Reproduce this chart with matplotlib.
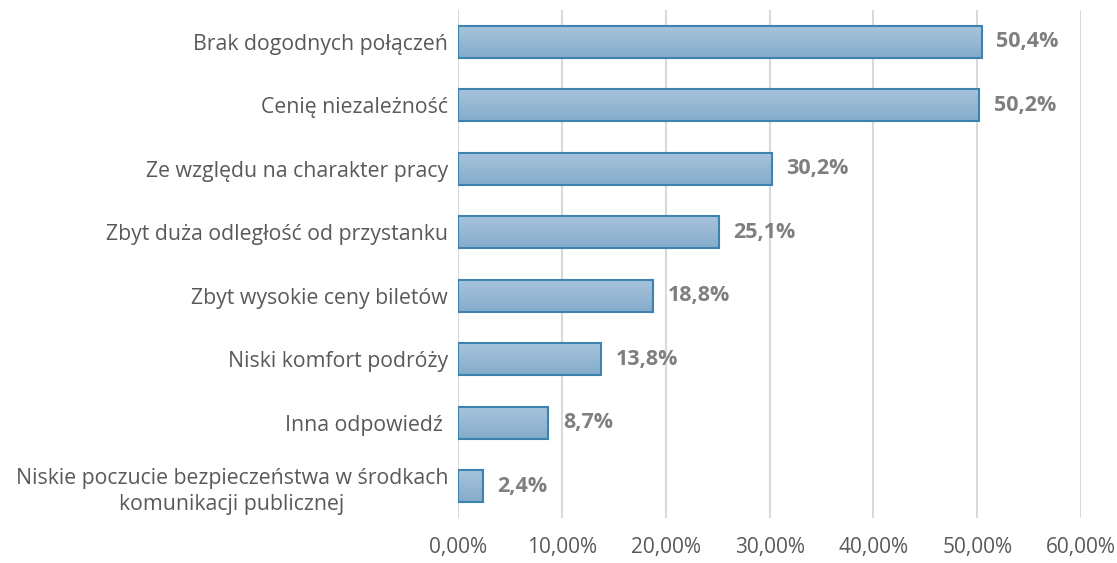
import matplotlib.pyplot as plt
import numpy as np
from matplotlib.ticker import FuncFormatter

categories = [
    "Brak dogodnych połączeń",
    "Cenię niezależność",
    "Ze względu na charakter pracy",
    "Zbyt duża odległość od przystanku",
    "Zbyt wysokie ceny biletów",
    "Niski komfort podróży",
    "Inna odpowiedź ",
    "Niskie poczucie bezpieczeństwa w środkach\nkomunikacji publicznej",
]
values = [50.4, 50.2, 30.2, 25.1, 18.8, 13.8, 8.7, 2.4]
x_ticks = [0, 10, 20, 30, 40, 50, 60]

plt.rcParams['font.family'] = ['Open Sans', 'DejaVu Sans']

fig = plt.figure(figsize=(11.17, 5.63), dpi=100)
ax = fig.add_axes([0.41, 0.08, 0.558, 0.902])

y = np.arange(len(categories))
bars = ax.barh(y, values, height=0.5, color='none', edgecolor='#3C83B0',
               linewidth=1.5, zorder=3)

# vertical gradient inside each bar
grad = np.linspace(0, 1, 64).reshape(-1, 1)
cmap = plt.matplotlib.colors.LinearSegmentedColormap.from_list(
    'g', ['#A7C3DB', '#85ACCC'])
for b in bars:
    x0, y0 = b.get_x(), b.get_y()
    w, h = b.get_width(), b.get_height()
    im = ax.imshow(grad, extent=[x0, x0 + w, y0 + h, y0], cmap=cmap,
                   aspect='auto', zorder=2, interpolation='bicubic')
    im.set_clip_path(b)

for yi, v in zip(y, values):
    ax.text(v + 1.4, yi, f"{v:.1f}".replace('.', ',') + "%", va='center',
            ha='left', fontsize=15.5, fontweight='bold', color='#7F7F7F')

ax.set_xlim(0, 60)
ax.set_ylim(len(categories) - 0.5, -0.5)
ax.set_xticks(x_ticks)
ax.xaxis.set_major_formatter(FuncFormatter(lambda v, p: f"{v:.2f}".replace('.', ',') + "%"))
ax.set_yticks(y)
ax.set_yticklabels(categories, ha='right', multialignment='center',
                   linespacing=1.3)
ax.tick_params(axis='y', length=0, pad=7, labelsize=15.3, labelcolor='#595959')
ax.tick_params(axis='x', length=0, pad=14, labelsize=15, labelcolor='#595959')

ax.grid(axis='x', color='#D9D9D9', linewidth=1.5, zorder=0)
for s in ax.spines.values():
    s.set_visible(False)

fig.savefig('out.png', dpi=100)
